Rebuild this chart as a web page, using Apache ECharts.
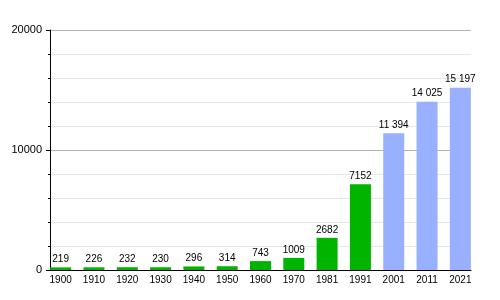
<!DOCTYPE html>
<html><head><meta charset="utf-8">
<script src="https://cdn.jsdelivr.net/npm/echarts@6/dist/echarts.min.js"></script>
<style>html,body{margin:0;padding:0;background:#fff}#c{width:500px;height:300px}</style>
</head><body><div id="c"></div>
<script>
const years = ['1900','1910','1920','1930','1940','1950','1960','1970','1981','1991','2001','2011','2021'];
const population = [219,226,232,230,296,314,743,1009,2682,7152,11394,14025,15197];
const greenCount = 10;
const yTicks = [0,10000,20000];
const green = '#00b400', blue = '#99afff';
const fmt = v => String(v).length > 4 ? String(v).replace(/\B(?=(\d{3})+(?!\d))/g, ' ') : String(v);
const chart = echarts.init(document.getElementById('c'));
chart.setOption({
  animation: false,
  textStyle: {fontFamily: 'Liberation Sans, Arial, sans-serif'},
  grid: [
    {left: 50, right: 29, top: 30, bottom: 30},
    {left: 44, right: 23, top: 30, bottom: 30}
  ],
  xAxis: [
    {gridIndex: 0, type: 'value', min: 0, max: 1, axisLine: {show: true, onZero: false, lineStyle: {color: '#000', width: 1}}, axisTick: {show: false}, axisLabel: {show: false}, splitLine: {show: false}},
    {gridIndex: 1, type: 'category', data: years, axisLine: {show: false}, axisTick: {show: false},
     axisLabel: {color: '#000', fontSize: 10, margin: 5, interval: 0}}
  ],
  yAxis: [
    {gridIndex: 0, type: 'value', min: yTicks[0], max: yTicks[yTicks.length-1], interval: 10000,
     axisLine: {show: true, lineStyle: {color: '#000', width: 1}},
     axisTick: {show: true, length: 4, lineStyle: {color: '#000'}},
     minorTick: {show: true, splitNumber: 5, length: 2, lineStyle: {color: '#000'}},
     axisLabel: {color: '#000', fontSize: 11, margin: 8, formatter: v => String(v)},
     splitLine: {show: true, lineStyle: {color: '#b4b4b4', width: 1}},
     minorSplitLine: {show: true, lineStyle: {color: '#e6e6e6', width: 1}}},
    {gridIndex: 1, type: 'value', min: 0, max: 20000, show: false}
  ],
  series: [{
    type: 'bar', xAxisIndex: 1, yAxisIndex: 1, barWidth: 21,
    data: population.map((v, i) => ({value: v, itemStyle: {color: i < greenCount ? green : blue}})),
    label: {show: true, position: 'top', distance: 3, color: '#000', fontSize: 10, formatter: p => fmt(p.value)}
  }]
});
</script></body></html>
